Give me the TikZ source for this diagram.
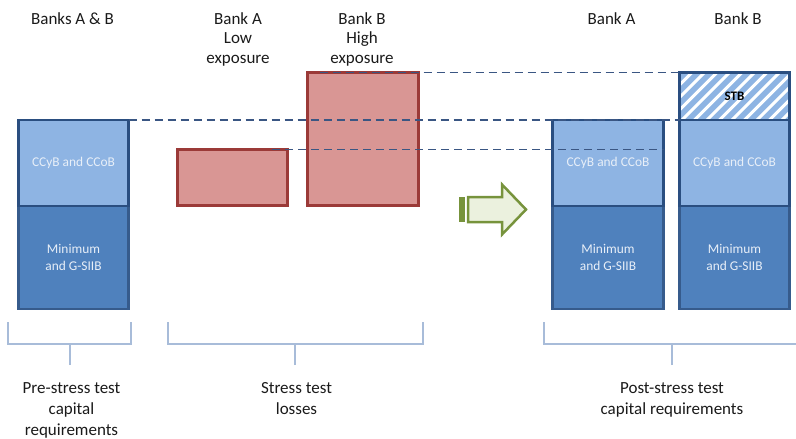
\documentclass[tikz,border=0pt]{standalone}
\usepackage{fontspec}
\setmainfont{Carlito}
\definecolor{lblue}{HTML}{8EB4E3}
\definecolor{dblue}{HTML}{4F81BD}
\definecolor{bordblue}{HTML}{2A4E80}
\definecolor{minbord}{HTML}{365B8C}
\definecolor{intext}{HTML}{E8EFF8}
\definecolor{redfill}{HTML}{D99694}
\definecolor{redbord}{HTML}{9B3A38}
\definecolor{dashcol}{HTML}{3A5683}
\definecolor{brackcol}{HTML}{A8BCD9}
\definecolor{txt}{HTML}{1A1A1A}
\definecolor{arrfill}{HTML}{EBF1DE}
\definecolor{arrbord}{HTML}{77933C}
\begin{document}
\begin{tikzpicture}[x=1pt,y=-1pt,
  ccbox/.style={draw=bordblue, line width=2.6pt, fill=lblue, inner sep=0pt, outer sep=0pt,
    text=intext, font=\fontsize{13.4}{16.4}\selectfont, align=center},
  minbox/.style={draw=minbord, line width=2.6pt, fill=dblue, inner sep=0pt, outer sep=0pt,
    text=intext, font=\fontsize{13.4}{16.4}\selectfont, align=center},
  redbox/.style={draw=redbord, line width=2.6pt, fill=redfill, inner sep=0pt, outer sep=0pt},
  stbbox/.style={draw=bordblue, line width=2.6pt, fill=lblue, inner sep=0pt, outer sep=0pt,
    text=black, font=\bfseries\fontsize{13}{15}\selectfont,
    path picture={\foreach \i in {-60,-47.5,...,130}
      \draw[white, line width=3pt] ([xshift=\i pt]path picture bounding box.south west) -- ++(60,-60);}},
  guide/.style={draw=dashcol, line width=1.4pt, dash pattern=on 8pt off 5pt},
  bracket/.style={draw=brackcol, line width=1.5pt},
  title/.style={font=\fontsize{17}{19.5}\selectfont, text=txt, align=center, anchor=north, inner sep=0pt},
  caption/.style={font=\fontsize{17}{21}\selectfont, text=txt, align=center, anchor=north, inner sep=0pt}
]
\useasboundingbox (0,0) rectangle (796,439);

% titles
\node[title] (t1) at (72.5,12) {Banks A \& B};
\node[title] (t2) at (238,12) {Bank A\\Low\\exposure};
\node[title] (t3) at (362,12) {Bank B\\High\\exposure};
\node[title] (t4) at (611.5,12) {Bank A};
\node[title] (t5) at (738,12) {Bank B};

% pre-stress stack
\node[minbox, minimum width=110pt, minimum height=103pt] (preM) at (73.5,257.5) {Minimum\\and G-SIIB};
\node[ccbox, minimum width=110pt, minimum height=86pt] (preC) at (73.5,163) {CCyB and CCoB};

% losses
\node[redbox, minimum width=110pt, minimum height=56pt] (redA) at (232.5,177.5) {};
\node[redbox, minimum width=111pt, minimum height=133pt] (redB) at (363,139) {};

% post-stress stacks
\node[minbox, minimum width=111pt, minimum height=103pt] (postAM) at (608,257.5) {Minimum\\and G-SIIB};
\node[ccbox, minimum width=111pt, minimum height=86pt] (postAC) at (608,163) {CCyB and CCoB};
\node[minbox, minimum width=110pt, minimum height=103pt] (postBM) at (734.5,257.5) {Minimum\\and G-SIIB};
\node[ccbox, minimum width=110pt, minimum height=86pt] (postBC) at (734.5,163) {CCyB and CCoB};
\node[stbbox, minimum width=110pt, minimum height=47.5pt] (stb) at (734.5,96.25) {STB};

% dashed guides
\draw[guide] ([xshift=12pt]redB.north west) -- (stb.north west);
\draw[guide] (preC.north east) -- (stb.south west);
\draw[guide] ([xshift=-15.5pt]redA.north east) -- (redA.north east -| postAC.east);

% arrow
\fill[arrbord] (459,197) rectangle (464.5,222);
\draw[draw=arrbord, fill=arrfill, line width=2.5pt, line join=miter]
  (468,197) -- (502,197) -- (502,184.5) -- (526,209.5) -- (502,234.5) -- (502,222) -- (468,222) -- cycle;

% brackets
\coordinate (b1l) at (8,322); \coordinate (b1r) at (131,322); \coordinate (b1s) at (70,365);
\coordinate (b2l) at (168,322); \coordinate (b2r) at (423,322); \coordinate (b2s) at (295,365);
\coordinate (b3l) at (544,322); \coordinate (b3r) at (800,344); \coordinate (b3s) at (672,365);
\draw[bracket] (b1l) -- (8,344) -- (131,344) -- (b1r);
\draw[bracket] (b1s) -- (70,344);
\draw[bracket] (b2l) -- (168,344) -- (423,344) -- (b2r);
\draw[bracket] (b2s) -- (295,344);
\draw[bracket] (b3l) -- (544,344) -- (b3r);
\draw[bracket] (b3s) -- (672,344);

% captions
\node[caption] (c1) at (71.5,382) {Pre-stress test\\capital\\requirements};
\node[caption] (c2) at (296.5,382) {Stress test\\losses};
\node[caption] (c3) at (672,382) {Post-stress test\\capital requirements};
\end{tikzpicture}
\end{document}
